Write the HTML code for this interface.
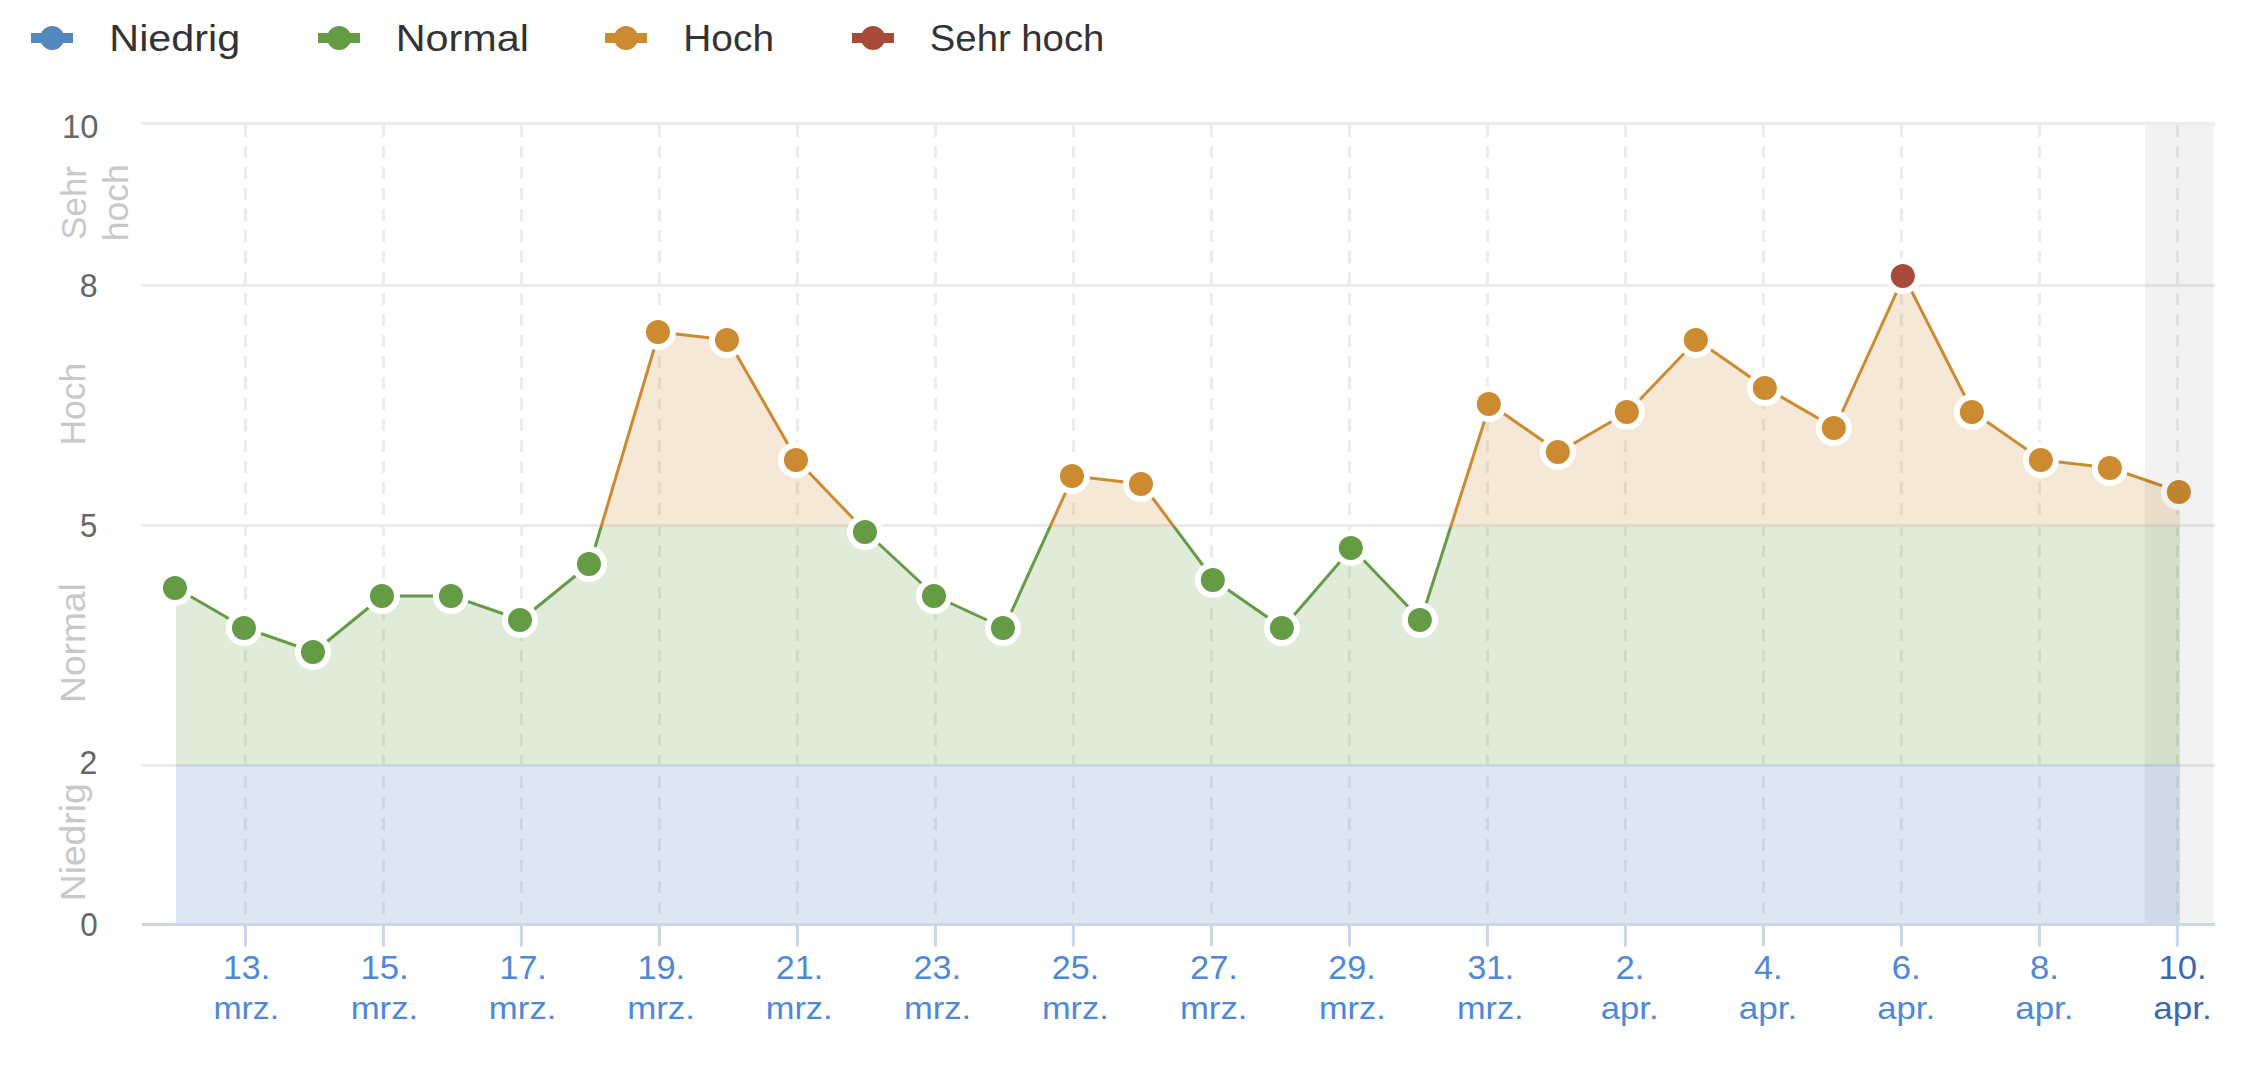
<!DOCTYPE html>
<html><head><meta charset="utf-8"><title>Chart</title>
<style>
html,body{margin:0;padding:0;background:#fff;width:2241px;height:1065px;overflow:hidden}
svg{display:block;font-family:"Liberation Sans",sans-serif}
</style></head><body>
<svg width="2241" height="1065" viewBox="0 0 2241 1065">
<defs>
<clipPath id="zb"><rect x="0" y="764" width="2241" height="200"/></clipPath>
<clipPath id="zg"><rect x="0" y="527" width="2241" height="237"/></clipPath>
<clipPath id="zo"><rect x="0" y="284" width="2241" height="243"/></clipPath>
<clipPath id="zr"><rect x="0" y="0" width="2241" height="284"/></clipPath>
</defs>

<rect x="31" y="33" width="42.0" height="10" fill="#5486c0"/>
<circle cx="52.2" cy="38" r="12" fill="#5486c0"/>
<text transform="translate(109.32,51) scale(1.0923,1)" font-size="37.8" fill="#333333">Niedrig</text>
<rect x="318" y="33" width="42.0" height="10" fill="#659b45"/>
<circle cx="339.1" cy="38" r="12" fill="#659b45"/>
<text transform="translate(395.72,51) scale(1.0942,1)" font-size="37.8" fill="#333333">Normal</text>
<rect x="605" y="33" width="42.0" height="10" fill="#cc8b30"/>
<circle cx="626" cy="38" r="12" fill="#cc8b30"/>
<text transform="translate(683.31,51) scale(1.0284,1)" font-size="37.8" fill="#333333">Hoch</text>
<rect x="852" y="33" width="42.0" height="10" fill="#a84a3a"/>
<circle cx="873" cy="38" r="12" fill="#a84a3a"/>
<text transform="translate(929.83,51) scale(1.0131,1)" font-size="37.8" fill="#333333">Sehr hoch</text>
<rect x="142" y="122.0" width="2073" height="3" fill="#ececec"/>
<rect x="142" y="284.0" width="2073" height="3" fill="#ececec"/>
<rect x="142" y="524.0" width="2073" height="3" fill="#ececec"/>
<rect x="142" y="764.0" width="2073" height="3" fill="#ececec"/>
<line x1="245.4" y1="125" x2="245.4" y2="923" stroke="#ececec" stroke-width="3" stroke-dasharray="12 9"/>
<line x1="383.4" y1="125" x2="383.4" y2="923" stroke="#ececec" stroke-width="3" stroke-dasharray="12 9"/>
<line x1="521.4" y1="125" x2="521.4" y2="923" stroke="#ececec" stroke-width="3" stroke-dasharray="12 9"/>
<line x1="659.4" y1="125" x2="659.4" y2="923" stroke="#ececec" stroke-width="3" stroke-dasharray="12 9"/>
<line x1="797.4" y1="125" x2="797.4" y2="923" stroke="#ececec" stroke-width="3" stroke-dasharray="12 9"/>
<line x1="935.4" y1="125" x2="935.4" y2="923" stroke="#ececec" stroke-width="3" stroke-dasharray="12 9"/>
<line x1="1073.4" y1="125" x2="1073.4" y2="923" stroke="#ececec" stroke-width="3" stroke-dasharray="12 9"/>
<line x1="1211.4" y1="125" x2="1211.4" y2="923" stroke="#ececec" stroke-width="3" stroke-dasharray="12 9"/>
<line x1="1349.4" y1="125" x2="1349.4" y2="923" stroke="#ececec" stroke-width="3" stroke-dasharray="12 9"/>
<line x1="1487.4" y1="125" x2="1487.4" y2="923" stroke="#ececec" stroke-width="3" stroke-dasharray="12 9"/>
<line x1="1625.4" y1="125" x2="1625.4" y2="923" stroke="#ececec" stroke-width="3" stroke-dasharray="12 9"/>
<line x1="1763.4" y1="125" x2="1763.4" y2="923" stroke="#ececec" stroke-width="3" stroke-dasharray="12 9"/>
<line x1="1901.4" y1="125" x2="1901.4" y2="923" stroke="#ececec" stroke-width="3" stroke-dasharray="12 9"/>
<line x1="2039.4" y1="125" x2="2039.4" y2="923" stroke="#ececec" stroke-width="3" stroke-dasharray="12 9"/>
<line x1="2177.4" y1="125" x2="2177.4" y2="923" stroke="#ececec" stroke-width="3" stroke-dasharray="12 9"/>
<path d="M176.06,924 L176.06,588.00 L245.06,628.00 L314.06,652.00 L383.06,596.00 L452.06,596.00 L521.06,620.00 L590.06,564.00 L659.06,332.00 L728.06,340.00 L797.06,460.00 L866.06,532.00 L935.06,596.00 L1004.06,628.00 L1073.06,476.00 L1142.06,484.00 L1213.94,580.00 L1282.94,628.00 L1351.94,548.00 L1420.94,620.00 L1489.94,404.00 L1558.94,452.00 L1627.94,412.00 L1696.94,340.00 L1765.94,388.00 L1834.94,428.00 L1903.94,276.00 L1972.94,412.00 L2041.94,460.00 L2110.94,468.00 L2179.94,492.00 L2179.94,924 Z" fill="#5486c0" fill-opacity="0.2" clip-path="url(#zb)"/>
<path d="M176.06,924 L176.06,588.00 L245.06,628.00 L314.06,652.00 L383.06,596.00 L452.06,596.00 L521.06,620.00 L590.06,564.00 L659.06,332.00 L728.06,340.00 L797.06,460.00 L866.06,532.00 L935.06,596.00 L1004.06,628.00 L1073.06,476.00 L1142.06,484.00 L1213.94,580.00 L1282.94,628.00 L1351.94,548.00 L1420.94,620.00 L1489.94,404.00 L1558.94,452.00 L1627.94,412.00 L1696.94,340.00 L1765.94,388.00 L1834.94,428.00 L1903.94,276.00 L1972.94,412.00 L2041.94,460.00 L2110.94,468.00 L2179.94,492.00 L2179.94,924 Z" fill="#659b45" fill-opacity="0.2" clip-path="url(#zg)"/>
<path d="M176.06,924 L176.06,588.00 L245.06,628.00 L314.06,652.00 L383.06,596.00 L452.06,596.00 L521.06,620.00 L590.06,564.00 L659.06,332.00 L728.06,340.00 L797.06,460.00 L866.06,532.00 L935.06,596.00 L1004.06,628.00 L1073.06,476.00 L1142.06,484.00 L1213.94,580.00 L1282.94,628.00 L1351.94,548.00 L1420.94,620.00 L1489.94,404.00 L1558.94,452.00 L1627.94,412.00 L1696.94,340.00 L1765.94,388.00 L1834.94,428.00 L1903.94,276.00 L1972.94,412.00 L2041.94,460.00 L2110.94,468.00 L2179.94,492.00 L2179.94,924 Z" fill="#cc8b30" fill-opacity="0.2" clip-path="url(#zo)"/>
<path d="M176.06,924 L176.06,588.00 L245.06,628.00 L314.06,652.00 L383.06,596.00 L452.06,596.00 L521.06,620.00 L590.06,564.00 L659.06,332.00 L728.06,340.00 L797.06,460.00 L866.06,532.00 L935.06,596.00 L1004.06,628.00 L1073.06,476.00 L1142.06,484.00 L1213.94,580.00 L1282.94,628.00 L1351.94,548.00 L1420.94,620.00 L1489.94,404.00 L1558.94,452.00 L1627.94,412.00 L1696.94,340.00 L1765.94,388.00 L1834.94,428.00 L1903.94,276.00 L1972.94,412.00 L2041.94,460.00 L2110.94,468.00 L2179.94,492.00 L2179.94,924 Z" fill="#a84a3a" fill-opacity="0.2" clip-path="url(#zr)"/>
<path d="M176.06,588.00 L245.06,628.00 L314.06,652.00 L383.06,596.00 L452.06,596.00 L521.06,620.00 L590.06,564.00 L659.06,332.00 L728.06,340.00 L797.06,460.00 L866.06,532.00 L935.06,596.00 L1004.06,628.00 L1073.06,476.00 L1142.06,484.00 L1213.94,580.00 L1282.94,628.00 L1351.94,548.00 L1420.94,620.00 L1489.94,404.00 L1558.94,452.00 L1627.94,412.00 L1696.94,340.00 L1765.94,388.00 L1834.94,428.00 L1903.94,276.00 L1972.94,412.00 L2041.94,460.00 L2110.94,468.00 L2179.94,492.00" fill="none" stroke="#5486c0" stroke-width="3" stroke-linejoin="round" clip-path="url(#zb)"/>
<path d="M176.06,588.00 L245.06,628.00 L314.06,652.00 L383.06,596.00 L452.06,596.00 L521.06,620.00 L590.06,564.00 L659.06,332.00 L728.06,340.00 L797.06,460.00 L866.06,532.00 L935.06,596.00 L1004.06,628.00 L1073.06,476.00 L1142.06,484.00 L1213.94,580.00 L1282.94,628.00 L1351.94,548.00 L1420.94,620.00 L1489.94,404.00 L1558.94,452.00 L1627.94,412.00 L1696.94,340.00 L1765.94,388.00 L1834.94,428.00 L1903.94,276.00 L1972.94,412.00 L2041.94,460.00 L2110.94,468.00 L2179.94,492.00" fill="none" stroke="#659b45" stroke-width="3" stroke-linejoin="round" clip-path="url(#zg)"/>
<path d="M176.06,588.00 L245.06,628.00 L314.06,652.00 L383.06,596.00 L452.06,596.00 L521.06,620.00 L590.06,564.00 L659.06,332.00 L728.06,340.00 L797.06,460.00 L866.06,532.00 L935.06,596.00 L1004.06,628.00 L1073.06,476.00 L1142.06,484.00 L1213.94,580.00 L1282.94,628.00 L1351.94,548.00 L1420.94,620.00 L1489.94,404.00 L1558.94,452.00 L1627.94,412.00 L1696.94,340.00 L1765.94,388.00 L1834.94,428.00 L1903.94,276.00 L1972.94,412.00 L2041.94,460.00 L2110.94,468.00 L2179.94,492.00" fill="none" stroke="#cc8b30" stroke-width="3" stroke-linejoin="round" clip-path="url(#zo)"/>
<path d="M176.06,588.00 L245.06,628.00 L314.06,652.00 L383.06,596.00 L452.06,596.00 L521.06,620.00 L590.06,564.00 L659.06,332.00 L728.06,340.00 L797.06,460.00 L866.06,532.00 L935.06,596.00 L1004.06,628.00 L1073.06,476.00 L1142.06,484.00 L1213.94,580.00 L1282.94,628.00 L1351.94,548.00 L1420.94,620.00 L1489.94,404.00 L1558.94,452.00 L1627.94,412.00 L1696.94,340.00 L1765.94,388.00 L1834.94,428.00 L1903.94,276.00 L1972.94,412.00 L2041.94,460.00 L2110.94,468.00 L2179.94,492.00" fill="none" stroke="#a84a3a" stroke-width="3" stroke-linejoin="round" clip-path="url(#zr)"/>
<circle cx="174.96" cy="588.00" r="18" fill="#ffffff"/>
<circle cx="174.96" cy="588.00" r="12" fill="#659b45"/>
<circle cx="243.96" cy="628.00" r="18" fill="#ffffff"/>
<circle cx="243.96" cy="628.00" r="12" fill="#659b45"/>
<circle cx="312.96" cy="652.00" r="18" fill="#ffffff"/>
<circle cx="312.96" cy="652.00" r="12" fill="#659b45"/>
<circle cx="381.96" cy="596.00" r="18" fill="#ffffff"/>
<circle cx="381.96" cy="596.00" r="12" fill="#659b45"/>
<circle cx="450.96" cy="596.00" r="18" fill="#ffffff"/>
<circle cx="450.96" cy="596.00" r="12" fill="#659b45"/>
<circle cx="519.96" cy="620.00" r="18" fill="#ffffff"/>
<circle cx="519.96" cy="620.00" r="12" fill="#659b45"/>
<circle cx="588.96" cy="564.00" r="18" fill="#ffffff"/>
<circle cx="588.96" cy="564.00" r="12" fill="#659b45"/>
<circle cx="657.96" cy="332.00" r="18" fill="#ffffff"/>
<circle cx="657.96" cy="332.00" r="12" fill="#cc8b30"/>
<circle cx="726.96" cy="340.00" r="18" fill="#ffffff"/>
<circle cx="726.96" cy="340.00" r="12" fill="#cc8b30"/>
<circle cx="795.96" cy="460.00" r="18" fill="#ffffff"/>
<circle cx="795.96" cy="460.00" r="12" fill="#cc8b30"/>
<circle cx="864.96" cy="532.00" r="18" fill="#ffffff"/>
<circle cx="864.96" cy="532.00" r="12" fill="#659b45"/>
<circle cx="933.96" cy="596.00" r="18" fill="#ffffff"/>
<circle cx="933.96" cy="596.00" r="12" fill="#659b45"/>
<circle cx="1002.96" cy="628.00" r="18" fill="#ffffff"/>
<circle cx="1002.96" cy="628.00" r="12" fill="#659b45"/>
<circle cx="1071.96" cy="476.00" r="18" fill="#ffffff"/>
<circle cx="1071.96" cy="476.00" r="12" fill="#cc8b30"/>
<circle cx="1140.96" cy="484.00" r="18" fill="#ffffff"/>
<circle cx="1140.96" cy="484.00" r="12" fill="#cc8b30"/>
<circle cx="1212.84" cy="580.00" r="18" fill="#ffffff"/>
<circle cx="1212.84" cy="580.00" r="12" fill="#659b45"/>
<circle cx="1281.84" cy="628.00" r="18" fill="#ffffff"/>
<circle cx="1281.84" cy="628.00" r="12" fill="#659b45"/>
<circle cx="1350.84" cy="548.00" r="18" fill="#ffffff"/>
<circle cx="1350.84" cy="548.00" r="12" fill="#659b45"/>
<circle cx="1419.84" cy="620.00" r="18" fill="#ffffff"/>
<circle cx="1419.84" cy="620.00" r="12" fill="#659b45"/>
<circle cx="1488.84" cy="404.00" r="18" fill="#ffffff"/>
<circle cx="1488.84" cy="404.00" r="12" fill="#cc8b30"/>
<circle cx="1557.84" cy="452.00" r="18" fill="#ffffff"/>
<circle cx="1557.84" cy="452.00" r="12" fill="#cc8b30"/>
<circle cx="1626.84" cy="412.00" r="18" fill="#ffffff"/>
<circle cx="1626.84" cy="412.00" r="12" fill="#cc8b30"/>
<circle cx="1695.84" cy="340.00" r="18" fill="#ffffff"/>
<circle cx="1695.84" cy="340.00" r="12" fill="#cc8b30"/>
<circle cx="1764.84" cy="388.00" r="18" fill="#ffffff"/>
<circle cx="1764.84" cy="388.00" r="12" fill="#cc8b30"/>
<circle cx="1833.84" cy="428.00" r="18" fill="#ffffff"/>
<circle cx="1833.84" cy="428.00" r="12" fill="#cc8b30"/>
<circle cx="1902.84" cy="276.00" r="18" fill="#ffffff"/>
<circle cx="1902.84" cy="276.00" r="12" fill="#a84a3a"/>
<circle cx="1971.84" cy="412.00" r="18" fill="#ffffff"/>
<circle cx="1971.84" cy="412.00" r="12" fill="#cc8b30"/>
<circle cx="2040.84" cy="460.00" r="18" fill="#ffffff"/>
<circle cx="2040.84" cy="460.00" r="12" fill="#cc8b30"/>
<circle cx="2109.84" cy="468.00" r="18" fill="#ffffff"/>
<circle cx="2109.84" cy="468.00" r="12" fill="#cc8b30"/>
<circle cx="2178.84" cy="492.00" r="18" fill="#ffffff"/>
<circle cx="2178.84" cy="492.00" r="12" fill="#cc8b30"/>
<rect x="2144.8" y="125" width="68.7" height="798" fill="#000" fill-opacity="0.05"/>
<rect x="142" y="923" width="2073" height="3" fill="#ccd6eb"/>
<rect x="243.9" y="926" width="3" height="20.5" fill="#ccd6eb"/>
<rect x="381.9" y="926" width="3" height="20.5" fill="#ccd6eb"/>
<rect x="519.9" y="926" width="3" height="20.5" fill="#ccd6eb"/>
<rect x="657.9" y="926" width="3" height="20.5" fill="#ccd6eb"/>
<rect x="795.9" y="926" width="3" height="20.5" fill="#ccd6eb"/>
<rect x="933.9" y="926" width="3" height="20.5" fill="#ccd6eb"/>
<rect x="1071.9" y="926" width="3" height="20.5" fill="#ccd6eb"/>
<rect x="1209.9" y="926" width="3" height="20.5" fill="#ccd6eb"/>
<rect x="1347.9" y="926" width="3" height="20.5" fill="#ccd6eb"/>
<rect x="1485.9" y="926" width="3" height="20.5" fill="#ccd6eb"/>
<rect x="1623.9" y="926" width="3" height="20.5" fill="#ccd6eb"/>
<rect x="1761.9" y="926" width="3" height="20.5" fill="#ccd6eb"/>
<rect x="1899.9" y="926" width="3" height="20.5" fill="#ccd6eb"/>
<rect x="2037.9" y="926" width="3" height="20.5" fill="#ccd6eb"/>
<rect x="2175.9" y="926" width="3" height="20.5" fill="#ccd6eb"/>
<text transform="translate(61.95,138) scale(0.9791,1)" font-size="33.5" fill="#666666">10</text>
<text transform="translate(79.66,297.2) scale(0.9587,1)" font-size="33.5" fill="#666666">8</text>
<text transform="translate(79.91,536.9) scale(0.9270,1)" font-size="33.5" fill="#666666">5</text>
<text transform="translate(79.62,773.8) scale(0.9574,1)" font-size="33.5" fill="#666666">2</text>
<text transform="translate(80.23,935.6) scale(0.9375,1)" font-size="33.5" fill="#666666">0</text>
<text transform="translate(85.3,901.23) rotate(-90) scale(1.0664,1)" font-size="34.9" fill="#c8c8c8">Niedrig</text>
<text transform="translate(85.3,702.93) rotate(-90) scale(1.0648,1)" font-size="34.9" fill="#c8c8c8">Normal</text>
<text transform="translate(85.1,445.49) rotate(-90) scale(1.0157,1)" font-size="34.9" fill="#c8c8c8">Hoch</text>
<text transform="translate(85.5,239.64) rotate(-90) scale(0.9965,1)" font-size="34.9" fill="#c8c8c8">Sehr</text>
<text transform="translate(128,241.35) rotate(-90) scale(1.0197,1)" font-size="34.9" fill="#c8c8c8">hoch</text>
<text transform="translate(222.97,979.1) scale(1.0122,1)" font-size="33.5" fill="#4f88d6">13.</text>
<text transform="translate(213.43,1019) scale(1.0092,0.95)" font-size="33.5" fill="#4f88d6">mrz.</text>
<text transform="translate(360.41,979.1) scale(1.0366,1)" font-size="33.5" fill="#4f88d6">15.</text>
<text transform="translate(350.67,1019) scale(1.0377,0.95)" font-size="33.5" fill="#4f88d6">mrz.</text>
<text transform="translate(499.46,979.1) scale(1.0171,1)" font-size="33.5" fill="#4f88d6">17.</text>
<text transform="translate(488.87,1019) scale(1.0377,0.95)" font-size="33.5" fill="#4f88d6">mrz.</text>
<text transform="translate(637.44,979.1) scale(1.0244,1)" font-size="33.5" fill="#4f88d6">19.</text>
<text transform="translate(627.16,1019) scale(1.0410,0.95)" font-size="33.5" fill="#4f88d6">mrz.</text>
<text transform="translate(775.72,979.1) scale(1.0180,1)" font-size="33.5" fill="#4f88d6">21.</text>
<text transform="translate(765.68,1019) scale(1.0293,0.95)" font-size="33.5" fill="#4f88d6">mrz.</text>
<text transform="translate(913.62,979.1) scale(1.0180,1)" font-size="33.5" fill="#4f88d6">23.</text>
<text transform="translate(903.88,1019) scale(1.0326,0.95)" font-size="33.5" fill="#4f88d6">mrz.</text>
<text transform="translate(1051.82,979.1) scale(1.0156,1)" font-size="33.5" fill="#4f88d6">25.</text>
<text transform="translate(1041.99,1019) scale(1.0259,0.95)" font-size="33.5" fill="#4f88d6">mrz.</text>
<text transform="translate(1190.00,979.1) scale(1.0299,1)" font-size="33.5" fill="#4f88d6">27.</text>
<text transform="translate(1179.97,1019) scale(1.0360,0.95)" font-size="33.5" fill="#4f88d6">mrz.</text>
<text transform="translate(1328.22,979.1) scale(1.0180,1)" font-size="33.5" fill="#4f88d6">29.</text>
<text transform="translate(1318.89,1019) scale(1.0259,0.95)" font-size="33.5" fill="#4f88d6">mrz.</text>
<text transform="translate(1467.45,979.1) scale(1.0036,1)" font-size="33.5" fill="#4f88d6">31.</text>
<text transform="translate(1456.90,1019) scale(1.0243,0.95)" font-size="33.5" fill="#4f88d6">mrz.</text>
<text transform="translate(1615.49,979.1) scale(1.0348,1)" font-size="33.5" fill="#4f88d6">2.</text>
<text transform="translate(1600.75,1019) scale(1.0341,0.95)" font-size="33.5" fill="#4f88d6">apr.</text>
<text transform="translate(1754.03,979.1) scale(1.0208,1)" font-size="33.5" fill="#4f88d6">4.</text>
<text transform="translate(1738.73,1019) scale(1.0478,0.95)" font-size="33.5" fill="#4f88d6">apr.</text>
<text transform="translate(1891.79,979.1) scale(1.0348,1)" font-size="33.5" fill="#4f88d6">6.</text>
<text transform="translate(1877.14,1019) scale(1.0380,0.95)" font-size="33.5" fill="#4f88d6">apr.</text>
<text transform="translate(2030.05,979.1) scale(1.0323,1)" font-size="33.5" fill="#4f88d6">8.</text>
<text transform="translate(2015.23,1019) scale(1.0439,0.95)" font-size="33.5" fill="#4f88d6">apr.</text>
<text transform="translate(2158.41,979.1) scale(1.0366,1)" font-size="33.5" fill="#3a69b4">10.</text>
<text transform="translate(2153.23,1019) scale(1.0478,0.95)" font-size="33.5" fill="#3a69b4">apr.</text>
</svg></body></html>
